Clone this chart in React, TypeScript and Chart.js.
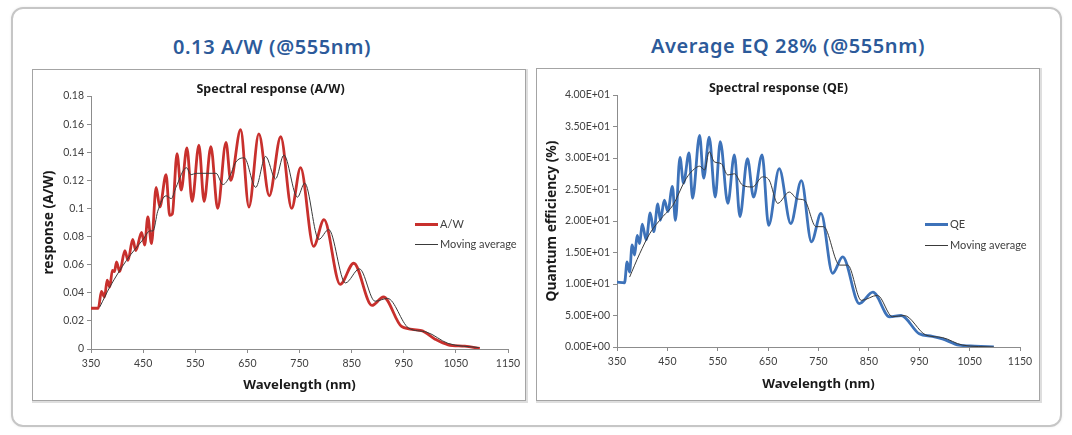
import React, { useEffect, useRef } from 'react';
import { Chart, registerables } from 'chart.js';

Chart.register(...registerables);

// ---------- data ----------
const awWavelengths = [350,364,370,376,381,386,391,395,399,405,415,421,430,436,447,453,459,466,475,482,494,501,506,515,523,534,544,557,567,580,593,609,618,637,653,672,692,714,735,752,777,797,828,854,889,911,946,984,1010,1035,1067,1096];
const awValues = [0.029,0.029,0.041,0.037,0.049,0.044,0.056,0.055,0.062,0.055,0.070,0.063,0.078,0.070,0.083,0.074,0.094,0.075,0.115,0.101,0.124,0.095,0.096,0.139,0.113,0.143,0.105,0.145,0.105,0.144,0.100,0.147,0.120,0.156,0.101,0.153,0.109,0.151,0.100,0.129,0.073,0.092,0.046,0.061,0.031,0.037,0.016,0.013,0.007,0.003,0.002,0.0005];

const awAvgWavelengths = [367,386,418,450,463,469,478,494,504,513,533,542,552,590,603,615,628,644,666,685,704,720,746,760,787,806,838,865,895,919,959,994,1035,1094];
const awAvgValues = [0.030,0.044,0.063,0.078,0.084,0.084,0.098,0.109,0.107,0.115,0.129,0.124,0.125,0.125,0.117,0.122,0.133,0.136,0.115,0.137,0.121,0.138,0.108,0.118,0.078,0.085,0.047,0.057,0.034,0.036,0.015,0.012,0.004,0.001];

const qeWavelengths = [350,365,370,375,380,385,390,395,400,408,416,423,431,436,444,451,460,466,475,482,493,500,514,522,533,545,555,570,583,594,609,621,638,651,672,695,716,736,755,778,798,831,858,891,914,950,976,996,1029,1060,1098];
const qeValues = [10.3,10.2,13.5,11.9,16.2,14.6,17.7,16.4,19.5,17.0,21.3,18.3,22.7,20.1,23.3,21.5,25.5,20.1,30.1,26.0,30.8,23.6,33.6,26.8,33.3,23.8,32.6,22.8,30.5,20.7,29.9,23.8,30.5,19.3,28.3,19.6,26.4,16.7,21.2,11.7,14.3,6.9,8.7,4.8,5.0,2.1,1.7,1.3,0.3,0.15,0.0];

const qeAvgWavelengths = [375,395,415,441,461,487,504,514,524,533,543,557,570,583,599,619,639,652,669,692,708,722,745,760,792,808,835,867,897,920,963,996,1036,1098];
const qeAvgValues = [11.1,14.8,18.0,20.7,22.5,26.7,28.3,28.7,28.1,31.0,29.4,29.1,27.3,27.5,25.7,25.4,27.0,26.5,22.8,24.6,23.5,23.3,19.1,19.1,13.0,13.0,7.4,8.2,4.8,5.0,1.9,1.5,0.3,0.0];

const xTickValues = [350,450,550,650,750,850,950,1050,1150];
const xTickLabels = ['350','450','550','650','750','850','950','1050','1150'];
const awYTickValues = [0,0.02,0.04,0.06,0.08,0.1,0.12,0.14,0.16,0.18];
const awYTickLabels = ['0','0.02','0.04','0.06','0.08','0.1','0.12','0.14','0.16','0.18'];
const qeYTickValues = [0,5,10,15,20,25,30,35,40];
const qeYTickLabels = ['0.00E+00','5.00E+00','1.00E+01','1.50E+01','2.00E+01','2.50E+01','3.00E+01','3.50E+01','4.00E+01'];

const pts = (xs: number[], ys: number[]) => xs.map((x, i) => ({ x, y: ys[i] }));

const TICK_FONT = { family: 'Lato, "Noto Sans", sans-serif', size: 10.5 };
const BOLD_FONT = (size: number, lineHeight = 1.2) => ({ family: '"Noto Sans", sans-serif', size, weight: 'bold' as const, lineHeight });

function makeConfig(o: any): any {
  return {
    type: 'scatter',
    data: {
      datasets: [
        {
          label: o.mainLabel,
          data: pts(o.mainX, o.mainY),
          showLine: true,
          borderColor: o.mainColor,
          backgroundColor: o.mainColor,
          borderWidth: 2.8,
          pointRadius: 0,
          cubicInterpolationMode: 'monotone',
          order: 2,
        },
        {
          label: 'Moving average',
          data: pts(o.avgX, o.avgY),
          showLine: true,
          borderColor: '#3a3a3a',
          backgroundColor: '#3a3a3a',
          borderWidth: 1,
          pointRadius: 0,
          cubicInterpolationMode: 'monotone',
          order: 1,
        },
      ],
    },
    options: {
      animation: false,
      responsive: false,
      devicePixelRatio: 1,
      layout: { padding: { left: 0, right: o.padRight, top: 0, bottom: 0 } },
      plugins: {
        legend: { display: false },
        tooltip: { enabled: false },
        title: {
          display: true,
          text: o.title,
          font: BOLD_FONT(12.5, 1),
          color: '#1a1a1a',
          padding: { top: o.titleTop, bottom: 26 - 12.5 - o.titleTop },
        },
      },
      scales: {
        x: {
          type: 'linear',
          min: 350,
          max: 1150,
          afterBuildTicks: (s: any) => { s.ticks = xTickValues.map((v) => ({ value: v })); },
          afterFit: (s: any) => { s.height = o.xAxisHeight; },
          ticks: {
            font: TICK_FONT,
            color: '#404040',
            padding: 4,
            maxRotation: 0,
            autoSkip: false,
            callback: (_v: any, i: number) => xTickLabels[i],
          },
          grid: { display: true, drawOnChartArea: false, drawTicks: true, tickLength: 4, color: '#8c8c8c' },
          border: { display: true, color: '#8c8c8c', width: 1 },
          title: {
            display: true,
            text: 'Wavelength (nm)',
            font: BOLD_FONT(13.2),
            color: '#1a1a1a',
            padding: { top: 0, bottom: o.xTitlePad },
          },
        },
        y: {
          type: 'linear',
          min: o.yMin,
          max: o.yMax,
          afterBuildTicks: (s: any) => { s.ticks = o.yTickValues.map((v: number) => ({ value: v })); },
          afterFit: (s: any) => { s.width = o.yAxisWidth; },
          ticks: {
            font: TICK_FONT,
            color: '#404040',
            padding: 3,
            autoSkip: false,
            callback: (_v: any, i: number) => o.yTickLabels[i],
          },
          grid: { display: true, drawOnChartArea: false, drawTicks: true, tickLength: 4, color: '#8c8c8c' },
          border: { display: true, color: '#8c8c8c', width: 1 },
          title: {
            display: true,
            text: o.yTitle,
            font: BOLD_FONT(13.8),
            color: '#1a1a1a',
            padding: { top: o.yTitlePad, bottom: 0 },
          },
        },
      },
    },
  };
}

const abs = (l: number, t: number, w: number, h: number): React.CSSProperties => ({
  position: 'absolute', left: l, top: t, width: w, height: h,
});

function LegendItem({ x, y, color, thick, text }: { x: number; y: number; color: string; thick: number; text: string }) {
  return (
    <>
      <div style={{ ...abs(x, y - thick / 2, 23, thick), background: color }} />
      <div
        style={{
          position: 'absolute', left: x + 25, top: y - 8, height: 16, lineHeight: '16px',
          fontFamily: 'Lato, "Noto Sans", sans-serif', fontSize: 11, color: '#404040', whiteSpace: 'nowrap',
        }}
      >
        {text}
      </div>
    </>
  );
}

export default function App() {
  const leftRef = useRef<HTMLCanvasElement>(null);
  const rightRef = useRef<HTMLCanvasElement>(null);

  useEffect(() => {
    const c1 = new Chart(leftRef.current as HTMLCanvasElement, makeConfig({
      mainLabel: 'A/W', mainX: awWavelengths, mainY: awValues, mainColor: '#C8302D',
      avgX: awAvgWavelengths, avgY: awAvgValues,
      title: 'Spectral response (A/W)', yTitle: 'response (A/W)', titleTop: 13,
      yMin: 0, yMax: 0.18, yTickValues: awYTickValues, yTickLabels: awYTickLabels,
      yAxisWidth: 58, xAxisHeight: 50, padRight: 17, yTitlePad: 7.5, xTitlePad: 5.5,
    }));
    const c2 = new Chart(rightRef.current as HTMLCanvasElement, makeConfig({
      mainLabel: 'QE', mainX: qeWavelengths, mainY: qeValues, mainColor: '#3D72B9',
      avgX: qeAvgWavelengths, avgY: qeAvgValues,
      title: 'Spectral response (QE)', yTitle: 'Quantum efficiency (%)', titleTop: 13,
      yMin: 0, yMax: 40, yTickValues: qeYTickValues, yTickLabels: qeYTickLabels,
      yAxisWidth: 80, xAxisHeight: 53, padRight: 19, yTitlePad: 6.5, xTitlePad: 7.5,
    }));
    return () => { c1.destroy(); c2.destroy(); };
  }, []);

  const titleStyle: React.CSSProperties = {
    position: 'absolute', width: 420, height: 26, lineHeight: '26px', textAlign: 'center',
    fontFamily: '"Noto Sans", sans-serif', fontWeight: 600, fontSize: 20, letterSpacing: 0.6,
    color: '#2C5A9A', whiteSpace: 'nowrap',
  };

  return (
    <div style={{ position: 'absolute', left: 0, top: 0, width: 1072, height: 435, background: '#fff', overflow: 'hidden' }}>
      <div style={{ ...abs(11, 7, 1051, 420), boxSizing: 'border-box', border: '2px solid #c6c6c6', borderRadius: 12, boxShadow: '0 0 3px rgba(0,0,0,0.08)' }} />
      <div style={{ ...titleStyle, left: 272 - 210, top: 47 - 13 }}>0.13 A/W (@555nm)</div>
      <div style={{ ...titleStyle, left: 788 - 210, top: 46 - 13 }}>Average EQ 28% (@555nm)</div>

      <div style={{ ...abs(32, 69, 494, 332), boxSizing: 'border-box', border: '1px solid #a4a4a4', boxShadow: '1px 1px 0 1px #dedede', background: '#fff' }} />
      <div style={{ ...abs(536, 68, 504, 333), boxSizing: 'border-box', border: '1px solid #a4a4a4', boxShadow: '1px 1px 0 1px #dedede', background: '#fff' }} />

      <canvas ref={leftRef} width={492} height={329} style={{ ...abs(33, 70, 492, 329) }} />
      <canvas ref={rightRef} width={502} height={331} style={{ ...abs(537, 69, 502, 331) }} />

      <LegendItem x={415} y={224} color="#C8302D" thick={3} text="A/W" />
      <LegendItem x={415} y={244} color="#3a3a3a" thick={1} text="Moving average" />
      <LegendItem x={925} y={224} color="#3D72B9" thick={3} text="QE" />
      <LegendItem x={925} y={245} color="#3a3a3a" thick={1} text="Moving average" />
    </div>
  );
}
